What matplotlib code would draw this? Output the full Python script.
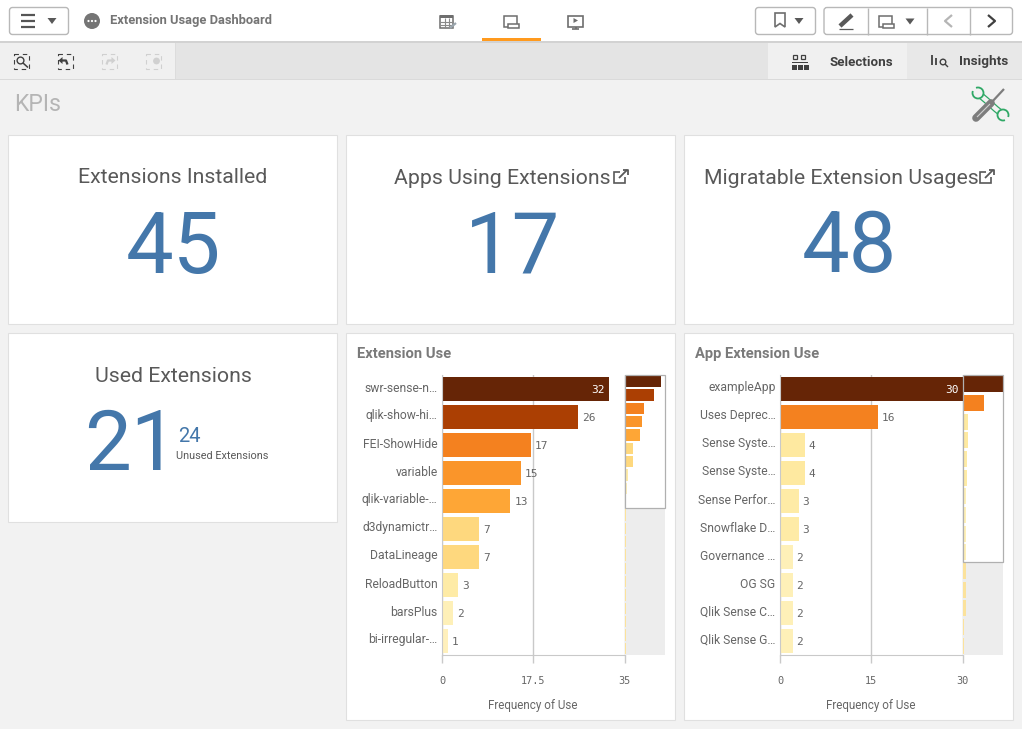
import numpy as np
import matplotlib
matplotlib.use("Agg")
import matplotlib.pyplot as plt
from matplotlib.patches import Rectangle, FancyBboxPatch, Circle, Polygon
from matplotlib.transforms import ScaledTranslation

plt.rcParams['font.family'] = ['Roboto', 'DejaVu Sans']

# data
ext_names = ["swr-sense-n…", "qlik-show-hi…", "FEI-ShowHide", "variable", "qlik-variable-…",
             "d3dynamictr…", "DataLineage", "ReloadButton", "barsPlus", "bi-irregular-…"]
ext_values = [32, 26, 17, 15, 13, 7, 7, 3, 2, 1, 1, 1, 1, 1, 1, 1, 1, 1, 1, 1, 1]
ext_ticks = [0, 17.5, 35]
ext_tick_labels = ["0", "17.5", "35"]

app_names = ["exampleApp", "Uses Deprec…", "Sense Syste…", "Sense Syste…", "Sense Perfor…",
             "Snowflake D…", "Governance …", "OG SG", "Qlik Sense C…", "Qlik Sense G…"]
app_values = [30, 16, 4, 4, 3, 3, 2, 2, 2, 2, 2, 2, 2, 1, 1]
app_ticks = [0, 15, 30]
app_tick_labels = ["0", "15", "30"]

kpi_installed = "45"
kpi_apps = "17"
kpi_migratable = "48"
kpi_used = "21"
kpi_unused = "24"

# colours
BLUE = "#4477aa"
TEXT = "#595959"
LINE = "#c9c9c9"
shades = {32: "#662506", 30: "#662506", 26: "#ab3f03", 17: "#f4811f", 16: "#f4811f",
          15: "#fa952a", 13: "#fea636", 7: "#fed87e", 4: "#fee9a0", 3: "#feeba6",
          2: "#fef0b8", 1: "#fff0bc"}

fig = plt.figure(figsize=(10.22, 7.29), dpi=100, facecolor="#f2f2f2")
W, H = 1022, 729

# page chrome is drawn in pixel coords
bg = fig.add_axes([0, 0, 1, 1])
bg.set_xlim(0, W)
bg.set_ylim(H, 0)
bg.axis("off")


def rect(x0, y0, x1, y1, color, edge="none", lw=0, z=1):
    bg.add_patch(Rectangle((x0, y0), x1 - x0, y1 - y0, facecolor=color, edgecolor=edge, linewidth=lw, zorder=z))


def line(xs, ys, color="#555555", lw=1.0, z=3, **kw):
    bg.plot(xs, ys, color=color, lw=lw, zorder=z, solid_capstyle=kw.pop("cap", "butt"), **kw)


def tri(x, y, color="#595959"):
    bg.add_patch(Polygon([(x - 4.5, y - 3), (x + 4.5, y - 3), (x, y + 3)], facecolor=color, zorder=3))


def button(x0, y0, x1, y1):
    bg.add_patch(FancyBboxPatch((x0 + 2, y0 + 2), x1 - x0 - 4, y1 - y0 - 4, boxstyle="round,pad=2,rounding_size=3",
                                facecolor="white", edgecolor="#b8b8b8", linewidth=1, zorder=2))


def sheet_icon(x, y, color="#6e6e6e"):
    # little laptop/sheet shape
    bg.add_patch(Rectangle((x, y), 13, 11, fill=False, edgecolor=color, linewidth=1.1, zorder=3))
    bg.add_patch(Rectangle((x + 4, y + 8), 11, 4, facecolor="white", edgecolor=color, linewidth=1.1, zorder=4))


# header
rect(0, 0, W, 41, "white")
rect(0, 41, W, 42.5, "#d2d2d2")
rect(0, 42.5, 175, 79, "#f0f0f0")
rect(175, 42.5, 768, 79, "#e4e4e4")
rect(768, 42.5, 907, 79, "#f0f0f0")
rect(907, 42.5, W, 79, "#e8e8e8")
rect(175, 42.5, 176, 79, "#dcdcdc")
rect(0, 79, W, 80, "#dadada")
rect(482, 38, 541, 41, "#ff9a1e")

button(9.5, 7.5, 68.5, 34.5)
for yy in (15, 21, 27):
    line([21, 35], [yy, yy], lw=1.6)
tri(52, 21)
bg.add_patch(Circle((92, 21), 8, facecolor="#757575", zorder=3))
for xx in (88.5, 92, 95.5):
    bg.add_patch(Circle((xx, 21), 1.1, facecolor="white", zorder=4))
bg.text(110.5, 20.5, "Extension Usage Dashboard", fontsize=9.3, fontweight="bold", color="#757575", va="center", zorder=3)

# nav icons
bg.add_patch(Rectangle((440, 16), 13, 12, fill=False, edgecolor="#6e6e6e", linewidth=1.1, zorder=3))
rect(440, 15, 453, 18, "#6e6e6e", z=3)
for xx in (444.5, 449):
    line([xx, xx], [18, 28], color="#8a8a8a", lw=0.8)
for yy in (21.5, 25):
    line([440, 453], [yy, yy], color="#8a8a8a", lw=0.8)
line([450, 456], [28, 23], color="#9aa5ad", lw=1.6)
sheet_icon(504, 16)
bg.add_patch(Rectangle((568, 15.5), 15, 11, fill=False, edgecolor="#6e6e6e", linewidth=1.2, zorder=3))
bg.add_patch(Polygon([(573.5, 18), (573.5, 23), (578, 20.5)], facecolor="#6e6e6e", zorder=3))
line([575.5, 575.5], [26.5, 29], color="#6e6e6e", lw=1.2)
line([572, 579], [29, 29], color="#6e6e6e", lw=1.2)

# right hand buttons
button(755.5, 7.5, 815.5, 34.5)
bg.add_patch(Polygon([(775, 13), (785, 13), (785, 27), (780, 23.5), (775, 27)], closed=True, fill=False,
                     edgecolor="#6e6e6e", linewidth=1.2, zorder=3))
tri(799, 21)
button(824, 7.5, 1012.5, 34.5)
for xx in (867.5, 926.5, 969.5):
    line([xx, xx], [7.5, 34.5], color="#b8b8b8", lw=1)
line([840, 852], [26, 15], color="#595959", lw=3.2)
line([839, 853], [28.5, 28.5], color="#595959", lw=0.9)
sheet_icon(879, 16)
tri(910, 21.5)
line([952, 945, 952], [15, 21, 27], color="#b5b5b5", lw=1.6)
line([988, 995, 988], [15, 21, 27], color="#404040", lw=1.6)

# selection toolbar
for k, xx in enumerate((13.5, 57.5, 101.5, 145.5)):
    col = "#404040" if k < 2 else "#d0d0d0"
    bg.add_patch(Rectangle((xx, 53.5), 15, 15, fill=False, edgecolor=col, linewidth=0.8, linestyle=(0, (4, 3.5)), zorder=3))
bg.add_patch(Circle((20.5, 60.5), 3.4, fill=False, edgecolor="#404040", linewidth=1, zorder=4))
line([23, 28], [63, 67.5], color="#404040", lw=1.1, z=4)
bg.add_patch(Polygon([(58.5, 60.5), (62.5, 57), (62.5, 64)], facecolor="#404040", zorder=4))
line([61, 66, 67.5], [60.5, 60.5, 64.5], color="#404040", lw=1.6, z=4)
bg.add_patch(Polygon([(115.5, 60.5), (111.5, 57), (111.5, 64)], facecolor="#d0d0d0", zorder=4))
line([113, 108, 106.5], [60.5, 60.5, 64.5], color="#d0d0d0", lw=1.6, z=4)
bg.add_patch(Circle((156.5, 61), 3.4, facecolor="#d0d0d0", zorder=4))

# selections and insights tabs
for xx in (792.5, 800.5):
    bg.add_patch(Rectangle((xx, 54.5), 4.5, 4.5, fill=False, edgecolor="#404040", linewidth=0.9, zorder=3))
rect(792, 62, 808, 63, "#404040", z=3)
for xx in (792, 798, 804):
    rect(xx, 65, xx + 4.5, 70, "#404040", z=3)
bg.text(830, 62.5, "Selections", fontsize=9.6, fontweight="bold", color="#404040", va="center", zorder=3)
line([932, 932], [55, 65], color="#404040", lw=1.3)
line([936, 936], [58, 65], color="#404040", lw=1.3)
bg.add_patch(Circle((943, 62), 2.8, fill=False, edgecolor="#404040", linewidth=1, zorder=3))
line([945, 948], [64, 67], color="#404040", lw=1)
bg.text(959, 61.5, "Insights", fontsize=9.7, fontweight="bold", color="#404040", va="center", zorder=3)

# sheet title and tool icon
bg.text(14.5, 104.5, "KPIs", fontsize=16.6, color="#b5b5b5", va="center", zorder=3)
wx = [980, 986, 996, 1001]
wy = [95, 100, 109, 113]
line(wx, wy, color="#2fa866", lw=5, z=3)
line(wx, wy, color="#f2f2f2", lw=3.2, z=3.1)
for cx, cy, nx, ny in ((978, 93, -1, -1), (1003, 115, 1, 1)):
    bg.add_patch(Circle((cx, cy), 5.5, facecolor="#f2f2f2", edgecolor="#2fa866", linewidth=1.3, zorder=3.2))
    bg.add_patch(Polygon([(cx, cy), (cx + nx * 9 + 4, cy + ny * 9 - 4), (cx + nx * 9 - 4, cy + ny * 9 + 4)],
                         facecolor="#f2f2f2", zorder=3.3))
line([976, 991], [118, 103], color="#7d7d7d", lw=5.5, z=4, cap="round")
line([991, 1004], [103, 89], color="#7d7d7d", lw=1.6, z=4)
line([977, 990], [117, 104], color="#d0d0d0", lw=0.8, z=5)

# cards
cards = [(9, 136, 337, 324), (347, 136, 675, 324), (685, 136, 1013, 324),
         (9, 334, 337, 522), (347, 334, 675, 720), (685, 334, 1013, 720)]
for x0, y0, x1, y1 in cards:
    rect(x0 - 1, y0 - 1, x1, y1, "white", edge="#e0e0e0", lw=0.8)


def ext_link(x, y):
    bg.add_patch(Polygon([(x + 6, y + 2), (x, y + 2), (x, y + 13), (x + 11, y + 13), (x + 11, y + 7)], closed=False,
                         fill=False, edgecolor="#595959", linewidth=1.2, zorder=3))
    line([x + 5, x + 13], [y + 8, y], color="#595959", lw=1.3)
    line([x + 8.5, x + 13.5, x + 13.5], [y, y, y + 5], color="#595959", lw=1.3)


TITLE = 15.3
BIG = 61
bg.text(173, 183, "Extensions Installed", fontsize=TITLE, color=TEXT, ha="center", va="baseline", zorder=3)
bg.text(173, 273, kpi_installed, fontsize=BIG, color=BLUE, ha="center", va="baseline", zorder=3)
bg.text(394, 184, "Apps Using Extensions", fontsize=TITLE, color=TEXT, ha="left", va="baseline", zorder=3)
ext_link(614, 170)
bg.text(513, 272, kpi_apps, fontsize=BIG, color=BLUE, ha="center", va="baseline", zorder=3)
bg.text(704, 184, "Migratable Extension Usages", fontsize=TITLE, color=TEXT, ha="left", va="baseline", zorder=3)
ext_link(980, 170)
bg.text(849, 272, kpi_migratable, fontsize=BIG, color=BLUE, ha="center", va="baseline", zorder=3)
bg.text(173, 382, "Used Extensions", fontsize=TITLE, color=TEXT, ha="center", va="baseline", zorder=3)
bg.text(131, 470, kpi_used, fontsize=60, color=BLUE, ha="center", va="baseline", zorder=3)
bg.text(178.5, 442, kpi_unused, fontsize=14.5, color=BLUE, ha="left", va="baseline", zorder=3)
bg.text(176.5, 459, "Unused Extensions", fontsize=7.8, color=TEXT, ha="left", va="baseline", zorder=3)


def px_axes(x0, y0, x1, y1):
    return fig.add_axes([x0 / W, 1 - y1 / H, (x1 - x0) / W, (y1 - y0) / H])


def bar_chart(left, title, names, values, ticks, tick_labels):
    right = left + 182.5
    top, bottom = 375, 655
    bg.text(left - 85, 354, title, fontsize=10.6, fontweight="bold", color="#7a7a7a", va="center", zorder=3)

    # main bars, only the first ten fit in the scroll window
    ax = px_axes(left, top, right, bottom)
    ax.patch.set_alpha(0)
    n = len(names)
    shown = values[:n]
    ypos = np.arange(n)
    ax.barh(ypos, shown, height=0.86, left=0.12, color=[shades[v] for v in shown])
    ax.set_xlim(ticks[0], ticks[-1])
    ax.set_ylim(n - 0.5, -0.5)
    ax.set_yticks(ypos, names)
    ax.set_xticks(ticks, tick_labels)
    ax.set_axisbelow(True)
    ax.grid(axis="x", color=LINE, lw=1)
    ax.tick_params(axis="y", length=0, pad=3.2, labelsize=8.7, labelcolor="#666666")
    ax.tick_params(axis="x", length=5.8, width=1, color=LINE, pad=9.5, labelsize=7.4, labelcolor="#666666")
    # labels sit a little above the bar centre
    nudge = ScaledTranslation(0, 2.5 / 100, fig.dpi_scale_trans)
    for lab in ax.get_yticklabels():
        lab.set_transform(lab.get_transform() + nudge)
    for lab in ax.get_xticklabels():
        lab.set_fontfamily("DejaVu Sans Mono")
    for s in ("top", "right"):
        ax.spines[s].set_visible(False)
    for s in ("left", "bottom"):
        ax.spines[s].set_color(LINE)
    ax.set_xlabel("Frequency of Use", fontsize=8.4, color="#666666", labelpad=9)
    limit = ticks[-1] * 0.8
    for y, v in zip(ypos, shown):
        inside = v > limit
        ax.annotate(str(v), (v, y), xytext=(-3 if inside else 3.2, -1), textcoords="offset points",
                    ha="right" if inside else "left", va="center", fontsize=8,
                    fontfamily="DejaVu Sans Mono", color="white" if inside else "#666666")

    # scroll overview on the right, bars past the window look a bit stronger on grey
    mini = px_axes(right + 0.5, top, right + 40, bottom)
    m = len(values)
    mini.axhspan(n - 0.5, m - 0.5, color="#ededed", lw=0, zorder=0)
    mini_colors = [shades[v] if i < n else "#fbe29c" for i, v in enumerate(values)]
    mini.barh(np.arange(m), values, height=0.84, left=0.1, color=mini_colors, zorder=1)
    mini.axhspan(-0.5, n - 0.5, fill=False, edgecolor="#b0b0b0", lw=0.9, zorder=2, clip_on=False)
    mini.set_xlim(ticks[0], ticks[-1])
    mini.set_ylim(m - 0.5, -0.5)
    mini.axis("off")


bar_chart(442, "Extension Use", ext_names, ext_values, ext_ticks, ext_tick_labels)
bar_chart(780, "App Extension Use", app_names, app_values, app_ticks, app_tick_labels)

fig.savefig("out.png", dpi=100, facecolor=fig.get_facecolor())
